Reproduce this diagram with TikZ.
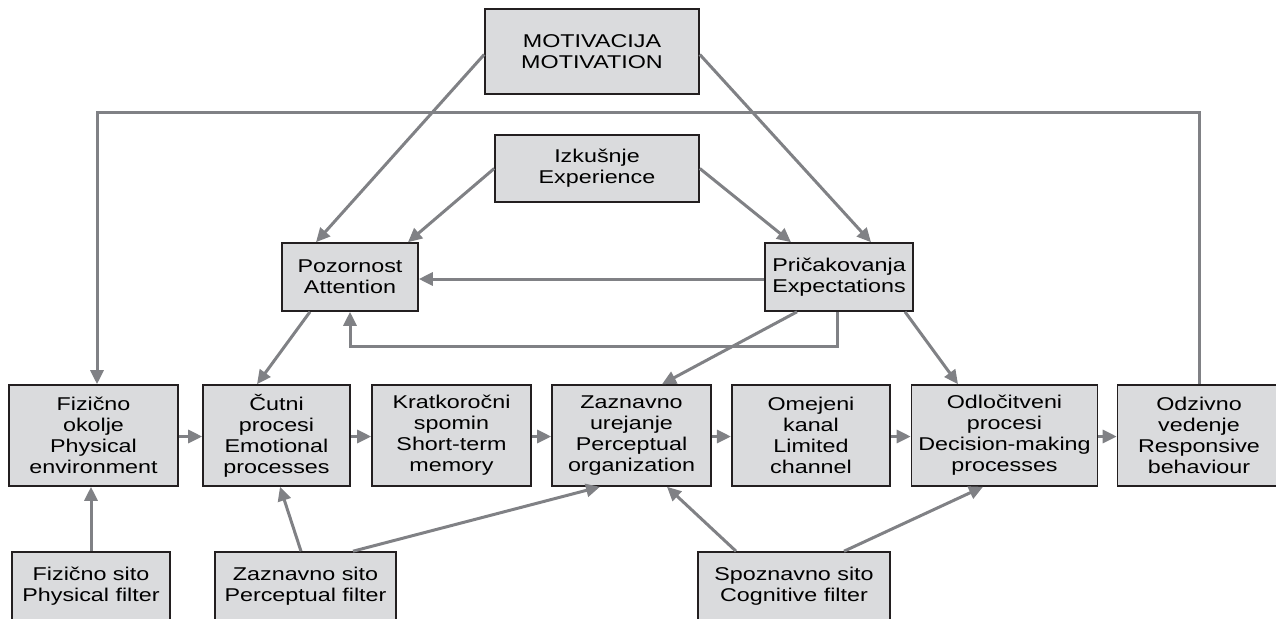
\documentclass[tikz,border=0pt]{standalone}
\usepackage{fontspec}
\setmainfont{Liberation Sans}[FakeStretch=1.26]
\usetikzlibrary{arrows.meta}
\begin{document}
\begin{tikzpicture}[x=1pt, y=-1pt,
  box/.style={draw=MyDark, fill=MyGray, line width=1.6pt, inner sep=0pt, align=center, font=\fontsize{18.5}{21}\selectfont},
  link/.style={draw=MyLine, line width=3pt, -{Triangle[length=14pt, width=13pt]}}]
\definecolor{MyGray}{RGB}{218, 219, 221}
\definecolor{MyLine}{RGB}{128, 129, 133}
\definecolor{MyDark}{RGB}{35, 31, 32}
\useasboundingbox (0,0) rectangle (1276,618);
\clip (0,0) rectangle (1276,618);
\node[box, minimum width=214pt, minimum height=85pt] (motiv) at (592,51.5) {MOTIVACIJA\\MOTIVATION};
\node[box, minimum width=204pt, minimum height=67pt] (izk) at (597,168.5) {Izkušnje\\Experience};
\node[box, minimum width=136pt, minimum height=68pt] (poz) at (350,277) {Pozornost\\Attention};
\node[box, minimum width=148pt, minimum height=68pt] (pric) at (839,277) {Pričakovanja\\Expectations};
\node[box, minimum width=169pt, minimum height=101pt] (fiz) at (93.5,435.5) {Fizično\\okolje\\Physical\\environment};
\node[box, minimum width=147pt, minimum height=101pt] (cut) at (276.5,435.5) {Čutni\\procesi\\Emotional\\processes};
\node[box, minimum width=159pt, minimum height=101pt] (krat) at (451.5,435.5) {Kratkoročni\\spomin\\Short-term\\memory};
\node[box, minimum width=159pt, minimum height=101pt] (zaz) at (631.5,435.5) {Zaznavno\\urejanje\\Perceptual\\organization};
\node[box, minimum width=158.5pt, minimum height=101pt] (ome) at (811,435.5) {Omejeni\\kanal\\Limited\\channel};
\node[box, minimum width=186pt, minimum height=101pt] (odl) at (1004.5,435.5) {Odločitveni\\procesi\\Decision-making\\processes};
\node[box, minimum width=163pt, minimum height=101pt] (odz) at (1199,435.5) {Odzivno\\vedenje\\Responsive\\behaviour};
\node[box, minimum width=158pt, minimum height=68pt] (fsito) at (91,586) {Fizično sito\\Physical filter};
\node[box, minimum width=181pt, minimum height=68pt] (zsito) at (305.5,586) {Zaznavno sito\\Perceptual filter};
\node[box, minimum width=192pt, minimum height=68pt] (ssito) at (794,586) {Spoznavno sito\\Cognitive filter};
\draw[link] ([yshift=-3pt]motiv.west) -- ([xshift=-34pt]poz.north);
\draw[link] ([yshift=-3pt]motiv.east) -- ([xshift=32pt]pric.north);
\draw[link] (izk.west) -- ([xshift=58pt]poz.north);
\draw[link] (izk.east) -- ([xshift=-48pt]pric.north);
\draw[link] ([yshift=-2pt]pric.west) -- ([yshift=-2pt]poz.east);
\draw[link] ([xshift=-2pt]pric.south) -- ++(0,35) -| (poz.south);
\draw[link] ([xshift=-40pt]poz.south) -- ([xshift=-19.5pt]cut.north);
\draw[link] ([xshift=-42pt]pric.south) -- ([xshift=30.5pt]zaz.north);
\draw[link] ([xshift=66pt]pric.south) -- ([xshift=-46.5pt]odl.north);
\draw[link] (odz.north) -- ++(0,-272) -| ([xshift=3.5pt]fiz.north);
\foreach \a/\b in {fiz/cut, cut/krat, krat/zaz, zaz/ome, ome/odl, odl/odz}{
\draw[link] ([yshift=-1pt]\a.east) -- ([yshift=-1pt]\b.west);
}
\draw[link] (fsito.north) -- (fsito.north |- fiz.south);
\draw[link] ([xshift=-4.5pt]zsito.north) -- ([xshift=3.5pt]cut.south);
\draw[link] ([xshift=47.5pt]zsito.north) -- ([xshift=-31.5pt]zaz.south);
\draw[link] ([xshift=-58pt]ssito.north) -- ([xshift=35.5pt]zaz.south);
\draw[link] ([xshift=50pt]ssito.north) -- ([xshift=-21.5pt]odl.south);
\end{tikzpicture}
\end{document}
